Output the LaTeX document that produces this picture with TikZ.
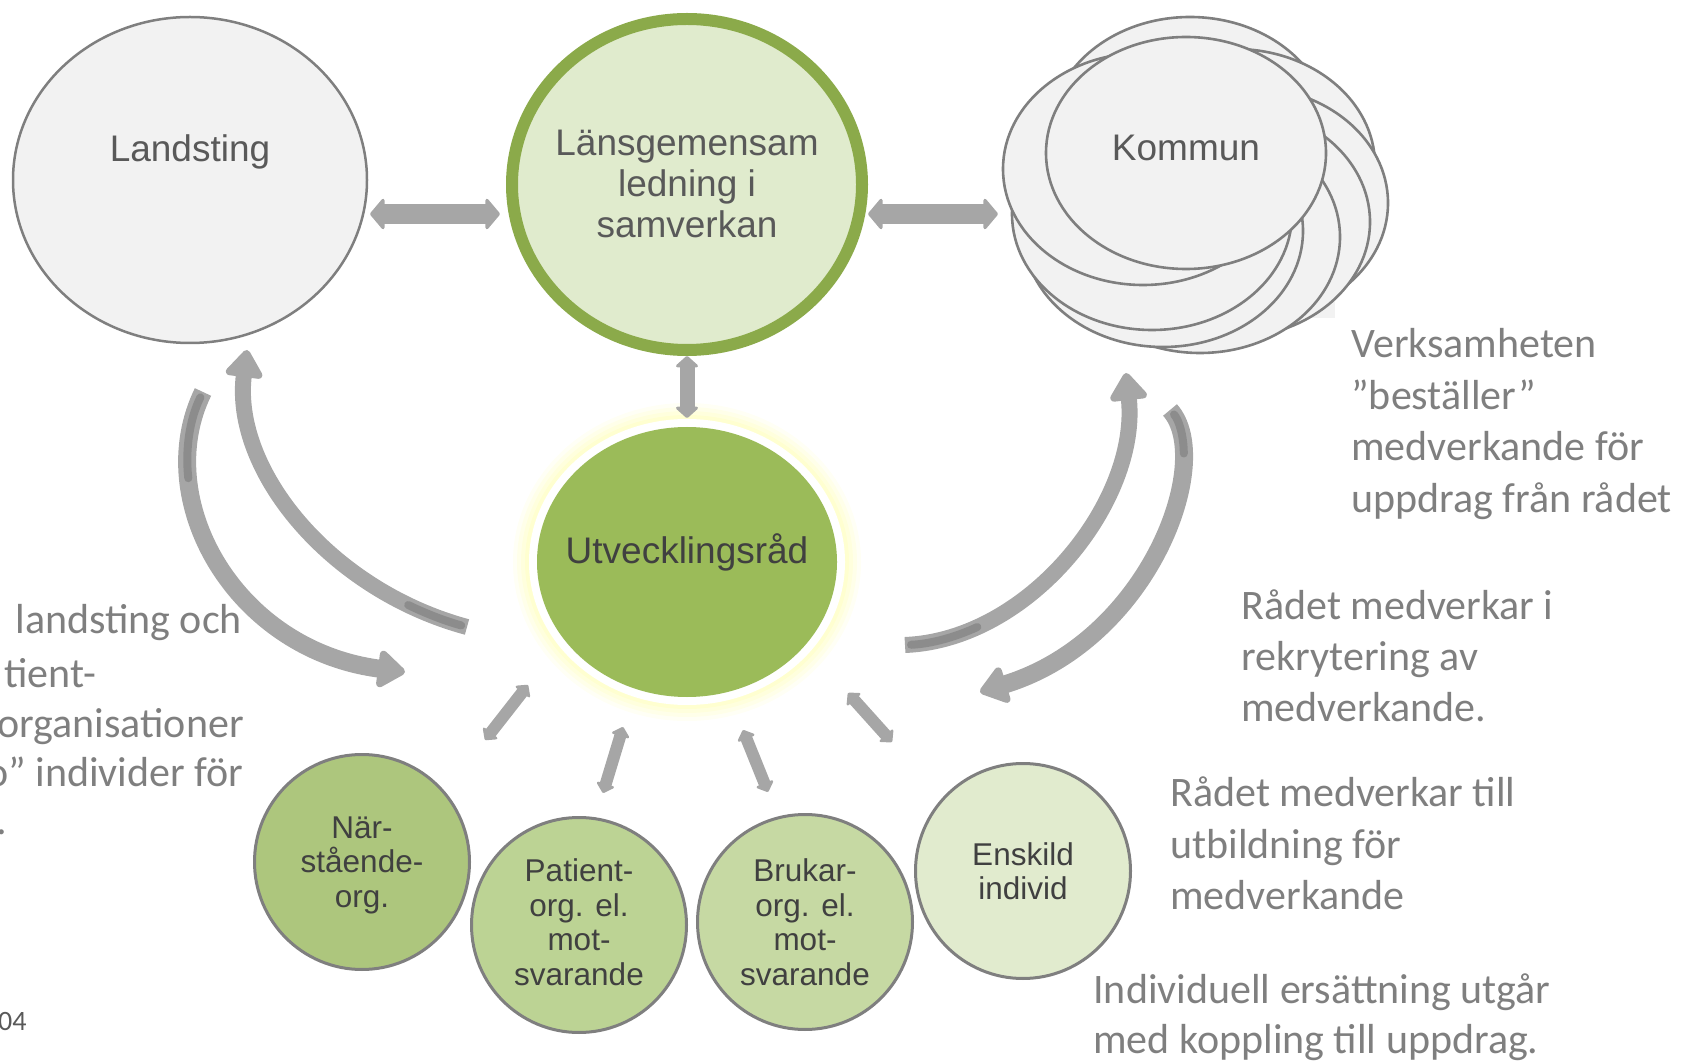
\documentclass[tikz,border=0pt]{standalone}
\usepackage{fontspec}
\setmainfont{Liberation Sans}
\newfontfamily\sidefont{Carlito}
\usetikzlibrary{shapes.geometric,arrows.meta}
\definecolor{arrowgray}{HTML}{A6A6A6}
\definecolor{arrowdark}{HTML}{8C8C8C}
\definecolor{ellgray}{HTML}{F2F2F2}
\definecolor{linegray}{HTML}{7F7F7F}
\definecolor{lansfill}{HTML}{E0EBCD}
\definecolor{lansborder}{HTML}{8BAA4A}
\definecolor{utvgreen}{HTML}{9BBB59}
\definecolor{nsfill}{HTML}{ADC67D}
\definecolor{patfill}{HTML}{BCD394}
\definecolor{brufill}{HTML}{C6D9A3}
\definecolor{enfill}{HTML}{E1EBCE}
\definecolor{txtmid}{HTML}{595959}
\definecolor{txtdark}{HTML}{404040}
\definecolor{sidegray}{HTML}{7F7F7F}
\definecolor{glowyellow}{HTML}{FFFF99}
\tikzset{
  bigell/.style={ellipse, draw=linegray, line width=1.25pt, fill=ellgray, inner sep=0pt, outer sep=0pt},
  cloudell/.style={ellipse, draw=linegray, line width=1.3pt, fill=ellgray, minimum width=140pt, minimum height=116pt, inner sep=0pt, outer sep=0pt},
  smallc/.style={circle, draw=linegray, line width=1.5pt, minimum size=107.5pt, inner sep=0pt, outer sep=0pt},
  smalltxt/.style={align=center, text=txtdark, inner sep=0pt, font=\fontsize{15.75}{17.25}\selectfont},
  mainlbl/.style={font=\fontsize{18.5}{20.5}\selectfont, text=txtmid, align=center, inner sep=0pt},
  sidetxt/.style={font=\sidefont\fontsize{21}{25.75}\selectfont, text=sidegray, anchor=base west, inner sep=0pt},
  dblarrow/.style={draw=arrowgray, line width=10pt, {Triangle[width=17.5pt,length=7.5pt,round,line width=1.5pt]}-{Triangle[width=17.5pt,length=7.5pt,round,line width=1.5pt]}},
  vertarrow/.style={draw=arrowgray, line width=7.5pt, {Triangle[width=13pt,length=6pt,round,line width=1.5pt]}-{Triangle[width=13pt,length=6pt,round,line width=1.5pt]}},
  smallarrow/.style={draw=arrowgray, line width=6pt, {Triangle[width=10.5pt,length=5pt,round,line width=1.5pt]}-{Triangle[width=10.5pt,length=5pt,round,line width=1.5pt]}},
  curvearrow/.style={draw=arrowgray, line width=9pt, -{Triangle[width=21pt,length=15pt,round,line width=4pt]}},
  twist/.style={draw=arrowdark, line width=4pt, line cap=round}
}
\begin{document}
\begin{tikzpicture}[x=0.5pt,y=-0.5pt]
\useasboundingbox (0,0) rectangle (1681,1063);
\clip (0,0) rectangle (1681,1063);

% Landsting
\node[bigell, minimum width=177pt, minimum height=163pt] (land) at (190,180) {};
\node[mainlbl] (landtxt) at (190,152) {Landsting};

% Lansgemensam
\node[ellipse, fill=lansfill, draw=lansborder, line width=6pt, minimum width=175pt, minimum height=165.5pt, inner sep=0pt, outer sep=0pt] (lans) at (687,184.5) {};
\node[mainlbl] (lanstxt) at (687,184) {Länsgemensam\\ledning i\\samverkan};

% Kommun cloud
\fill[ellgray] (1303,298) rectangle (1335,318);
\node[cloudell] (k1) at (1190,133) {};
\node[cloudell] (k2) at (1235,165) {};
\node[cloudell] (k3) at (1248,203) {};
\node[cloudell] (k4) at (1230,222) {};
\node[cloudell] (k5) at (1200,237) {};
\node[cloudell] (k6) at (1163,231) {};
\node[cloudell] (k7) at (1152,214) {};
\node[cloudell] (k8) at (1143,169) {};
\node[cloudell] (kommun) at (1186,153) {};
\node[mainlbl] (kommuntxt) at (1186,148) {Kommun};

% Utvecklingsrad with glow
\coordinate (uc) at (687,562);
\foreach \d/\o in {24/0.10,20/0.12,16/0.15,12/0.2}
  \fill[glowyellow, opacity=\o] (uc) ellipse [x radius=150+\d, y radius=135+\d];
\fill[white] (uc) ellipse [x radius=158, y radius=143];
\node[ellipse, fill=utvgreen, minimum width=150pt, minimum height=135pt, inner sep=0pt, outer sep=0pt] (utv) at (uc) {};
\node[mainlbl, text=txtdark] (utvtxt) at (687,552) {Utvecklingsråd};

% small circles
\node[smallc, fill=nsfill] (ns) at (362,862) {};
\node[smalltxt] (nstxt) at (362,865) {När-\\stående-\\org.};
\node[smallc, fill=patfill] (pat) at (579,925) {};
\node[smalltxt] (pattxt) at (579,922) {Patient-\\org. el.\\mot-\\svarande};
\node[smallc, fill=brufill] (bru) at (805,922) {};
\node[smalltxt] (brutxt) at (805,922) {Brukar-\\org. el.\\mot-\\svarande};
\node[smallc, fill=enfill] (ens) at (1023,871) {};
\node[smalltxt] (enstxt) at (1023,871) {Enskild\\individ};

% straight double arrows
\draw[dblarrow, shorten <=1.5pt, shorten >=6pt] ([yshift=-17pt]land.east) -- ([yshift=-14.75pt]lans.west);
\draw[dblarrow, shorten <=3pt, shorten >=2.5pt] ([yshift=-14.75pt]lans.east) -- ([yshift=-22.5pt]k8.west);
\draw[vertarrow, shorten <=3pt, shorten >=4.5pt] (lans.south) -- (utv.north);

% small diagonal arrows
\coordinate (a1u) at (528,685); \coordinate (a1d) at (485,740);
\coordinate (a2u) at (623,727); \coordinate (a2d) at (603,793);
\coordinate (a3u) at (743,730); \coordinate (a3d) at (768,792);
\coordinate (a4u) at (848,693); \coordinate (a4d) at (892,742);
\draw[smallarrow] (a1u) -- (a1d);
\draw[smallarrow] (a2u) -- (a2d);
\draw[smallarrow] (a3u) -- (a3d);
\draw[smallarrow] (a4u) -- (a4d);

% curved arrows
\coordinate (lo1) at (203,392); \coordinate (lo2) at (405,672);
\coordinate (li1) at (467,627); \coordinate (li2) at (247,350);
\coordinate (ri1) at (905,645); \coordinate (ri2) at (1126,373);
\coordinate (ro1) at (1170,410); \coordinate (ro2) at (980,692);
\draw[curvearrow] (lo1) .. controls (150,500) and (235,650) .. (lo2);
\draw[curvearrow, line width=8pt] (li1) .. controls (330,590) and (232,470) .. (li2);
\draw[curvearrow, line width=8pt] (ri1) .. controls (1030,640) and (1140,500) .. (ri2);
\draw[curvearrow] (ro1) .. controls (1215,460) and (1150,640) .. (ro2);
\draw[twist, shorten <=3pt] (lo1) .. controls (189.75,419) and (185.1,448.6) .. (188.3,478.2);
\draw[twist, shorten <=3pt] (li1) .. controls (446.45,621.45) and (426.8,614) .. (408.2,605);
\draw[twist, shorten <=3pt] (ri1) .. controls (930,644) and (954.4,637.6) .. (977.3,627);
\draw[twist, shorten <=3pt] (ro1) .. controls (1179,420) and (1183.6,435.2) .. (1183.8,453.5);

% side texts right
\node[sidetxt] (v1) at (1351,358) {Verksamheten};
\node[sidetxt] (v2) at (1351,410) {”beställer”};
\node[sidetxt] (v3) at (1351,461) {medverkande för};
\node[sidetxt] (v4) at (1351,513) {uppdrag från rådet};
\node[sidetxt] (r1) at (1241,619) {Rådet medverkar i};
\node[sidetxt] (r2) at (1241,670) {rekrytering av};
\node[sidetxt] (r3) at (1241,721) {medverkande.};
\node[sidetxt] (u1) at (1170,806) {Rådet medverkar till};
\node[sidetxt] (u2) at (1170,858) {utbildning för};
\node[sidetxt] (u3) at (1170,909) {medverkande};
\node[sidetxt] (i1) at (1093,1003) {Individuell ersättning utgår};
\node[sidetxt] (i2) at (1093,1053) {med koppling till uppdrag.};

% side texts left (cut by the edge, as in the original)
\node[sidetxt] (l1) at (15,633) {landsting och};
\node[sidetxt] (l2) at (4,687) {tient-};
\node[sidetxt] (l3) at (-3,737) {organisationer};
\node[sidetxt] (l4) at (-14,786) {o” individer för};
\node[sidetxt] (l5) at (-4,834) {.};
\node[font=\sidefont\fontsize{14}{16}\selectfont, text=txtmid, anchor=base east, inner sep=0pt] (pagenr) at (27,1030) {04};
\end{tikzpicture}
\end{document}
